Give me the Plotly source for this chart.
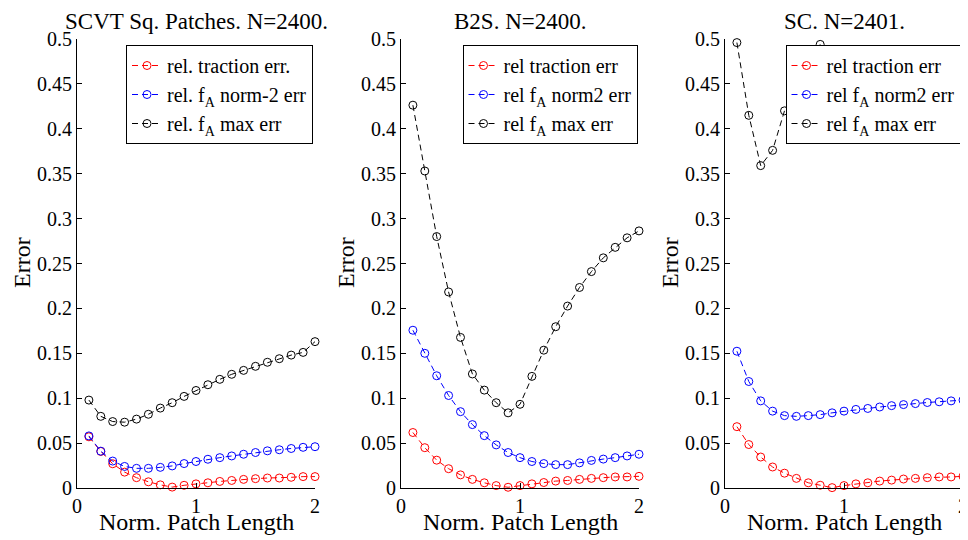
import plotly.graph_objects as go

x_vals = [0.1, 0.2, 0.3, 0.4, 0.5, 0.6, 0.7, 0.8, 0.9, 1.0,
          1.1, 1.2, 1.3, 1.4, 1.5, 1.6, 1.7, 1.8, 1.9, 2.0]

titles = ["SCVT Sq. Patches. N=2400.", "B2S. N=2400.", "SC. N=2401."]
x_title = "Norm. Patch Length"
y_title = "Error"

# Panel 1: SCVT Sq. Patches
p1_traction = [0.057, 0.0407, 0.027, 0.0177, 0.0115, 0.0069, 0.0035, 0.001, 0.003, 0.0046,
               0.0058, 0.0073, 0.0084, 0.0096, 0.0104, 0.0111, 0.0111, 0.0119, 0.0127, 0.0127]
p1_norm2 = [0.058, 0.041, 0.030, 0.024, 0.0219, 0.0219, 0.023, 0.0246, 0.0272, 0.0295,
            0.032, 0.0338, 0.0357, 0.0376, 0.0395, 0.0414, 0.0426, 0.044, 0.0453, 0.046]
p1_max = [0.0979, 0.0798, 0.074, 0.0733, 0.0767, 0.0821, 0.089, 0.095, 0.102, 0.1086,
          0.115, 0.121, 0.1266, 0.131, 0.1355, 0.140, 0.144, 0.148, 0.151, 0.163]

# Panel 2: B2S
p2_traction = [0.0618, 0.0449, 0.031, 0.0215, 0.0146, 0.0096, 0.0058, 0.0027, 0.0008, 0.0027,
               0.0046, 0.0061, 0.0077, 0.0084, 0.0096, 0.0107, 0.0115, 0.0123, 0.0123, 0.013]
p2_norm2 = [0.1757, 0.150, 0.125, 0.103, 0.085, 0.0706, 0.0583, 0.048, 0.0395, 0.0338,
            0.0295, 0.0272, 0.026, 0.026, 0.028, 0.0307, 0.0322, 0.0338, 0.0357, 0.0376]
p2_max = [0.4263, 0.353, 0.280, 0.2183, 0.1677, 0.127, 0.109, 0.095, 0.0837, 0.0932,
          0.1243, 0.1535, 0.1796, 0.2026, 0.2233, 0.241, 0.2563, 0.268, 0.2786, 0.2863]

# Panel 3: SC (max err leaves the visible range after x=0.8)
p3_traction = [0.0683, 0.0484, 0.0345, 0.0234, 0.0165, 0.0107, 0.0058, 0.0031, 0.0004, 0.0027,
               0.0046, 0.0058, 0.0077, 0.0088, 0.010, 0.0107, 0.0115, 0.0123, 0.0123, 0.013]
p3_norm2 = [0.1523, 0.1186, 0.097, 0.0856, 0.0806, 0.0798, 0.0806, 0.0817, 0.0837, 0.0856,
            0.0875, 0.0886, 0.0902, 0.0917, 0.0929, 0.094, 0.0952, 0.096, 0.097, 0.0979]
p3_max = [0.496, 0.415, 0.359, 0.376, 0.42, 0.45, 0.475, 0.494, None, None,
          None, None, None, None, None, None, None, None, None, None]

legend_names = [
    ["rel. traction err.", "rel. f<sub>A</sub> norm-2 err", "rel. f<sub>A</sub> max err"],
    ["rel traction err", "rel f<sub>A</sub> norm2 err", "rel f<sub>A</sub> max err"],
    ["rel traction err", "rel f<sub>A</sub> norm2 err", "rel f<sub>A</sub> max err"],
]

y_tickvals = [0, 0.05, 0.1, 0.15, 0.2, 0.25, 0.3, 0.35, 0.4, 0.45, 0.5]
y_ticktext = ["0", "0.05", "0.1", "0.15", "0.2", "0.25", "0.3", "0.35", "0.4", "0.45", "0.5"]
x_tickvals = [0, 1, 2]
x_ticktext = ["0", "1", "2"]

panels = [
    (p1_traction, p1_norm2, p1_max),
    (p2_traction, p2_norm2, p2_max),
    (p3_traction, p3_norm2, p3_max),
]
colors = ["#ff0000", "#0000ff", "#000000"]

# The page body has an 8px default margin; lay out in screen pixels minus that offset.
OFF = 8
W, H = 968 - OFF, 540 - OFF
FONT = "Liberation Serif"
x_px = [(77 - OFF, 315 - OFF), (401 - OFF, 639 - OFF), (725 - OFF, 963 - OFF)]
y_px = (39 - OFF, 488 - OFF)
legend_right = [313 - OFF, 637.5 - OFF, 960.5 - OFF]
legend_top = 45 - OFF
xtitle_y = 522 - OFF
ytitle_y = 263 - OFF

fig = go.Figure()
for i, series in enumerate(panels):
    sfx = "" if i == 0 else str(i + 1)
    for j, ys in enumerate(series):
        fig.add_trace(go.Scatter(
            x=x_vals, y=ys, mode="lines+markers",
            name=legend_names[i][j],
            line=dict(color=colors[j], width=1, dash="6px,4px"),
            marker=dict(symbol="circle-open", size=8, color=colors[j], line=dict(width=1, color=colors[j])),
            xaxis="x" + sfx, yaxis="y" + sfx,
            legend="legend" + sfx,
            cliponaxis=False,
            connectgaps=False,
        ))

layout = dict(
    width=W, height=H,
    margin=dict(l=0, r=0, t=0, b=0, autoexpand=False),
    paper_bgcolor="white", plot_bgcolor="white",
    font=dict(family=FONT, size=20, color="black"),
    showlegend=True,
)
annotations = []
for i in range(3):
    sfx = "" if i == 0 else str(i + 1)
    x0, x1 = x_px[i]
    layout["xaxis" + sfx] = dict(
        domain=[x0 / W, x1 / W], range=[0, 2], anchor="y" + sfx,
        tickvals=x_tickvals, ticktext=x_ticktext, automargin=False,
        showline=True, linecolor="black", linewidth=1, mirror=False,
        ticks="inside", ticklen=5, tickcolor="black", tickwidth=1,
        showgrid=False, zeroline=False,
        tickfont=dict(family=FONT, size=20, color="black"),
    )
    layout["yaxis" + sfx] = dict(
        domain=[1 - y_px[1] / H, 1 - y_px[0] / H], range=[0, 0.5], anchor="x" + sfx,
        tickvals=y_tickvals, ticktext=y_ticktext, automargin=False,
        showline=True, linecolor="black", linewidth=1, mirror=False,
        ticks="inside", ticklen=5, tickcolor="black", tickwidth=1,
        showgrid=False, zeroline=False,
        tickfont=dict(family=FONT, size=20, color="black"),
    )
    layout["legend" + sfx] = dict(
        x=legend_right[i] / W, xanchor="right",
        y=1 - legend_top / H, yanchor="top",
        bgcolor="white", bordercolor="black", borderwidth=1,
        font=dict(family=FONT, size=20, color="black"),
        tracegroupgap=0, itemwidth=30,
    )
    annotations.append(dict(
        text=titles[i], xref="paper", yref="paper",
        x=(x0 + x1) / 2 / W, y=1, xanchor="center", yanchor="top",
        borderpad=0, showarrow=False, font=dict(family=FONT, size=23, color="black"),
    ))
    annotations.append(dict(
        text=x_title, xref="paper", yref="paper",
        x=(x0 + x1) / 2 / W, y=1 - xtitle_y / H, xanchor="center", yanchor="middle",
        showarrow=False, font=dict(family=FONT, size=24, color="black"),
    ))
    annotations.append(dict(
        text=y_title, xref="paper", yref="paper", textangle=-90,
        x=(x0 - 55) / W, y=1 - ytitle_y / H, xanchor="center", yanchor="middle",
        showarrow=False, font=dict(family=FONT, size=24, color="black"),
    ))
layout["annotations"] = annotations
fig.update_layout(**layout)

fig.write_html("out.html")
